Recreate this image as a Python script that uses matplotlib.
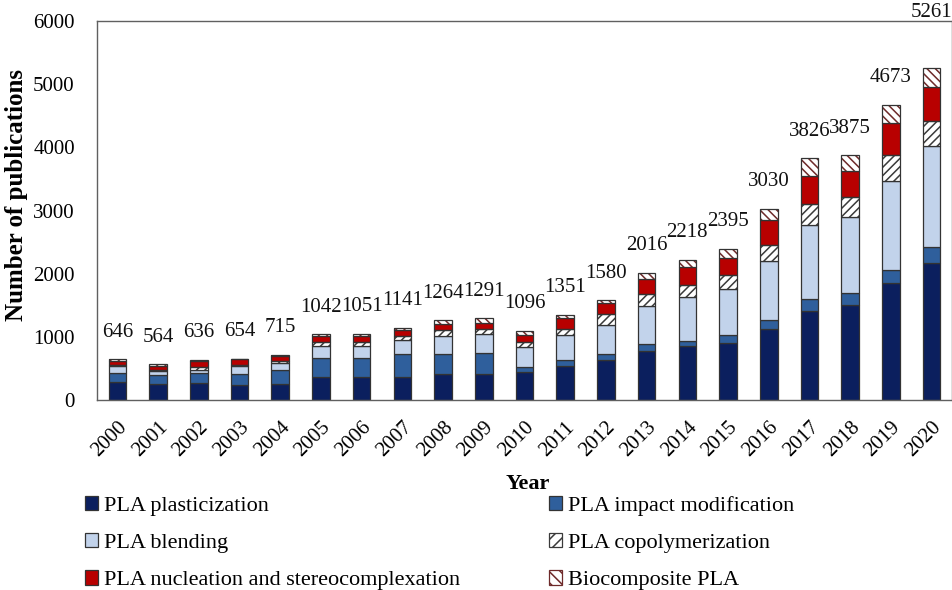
import matplotlib
matplotlib.use("Agg")
import matplotlib.pyplot as plt
from matplotlib.patches import Patch
import numpy as np

plt.rcParams['font.family'] = ['Liberation Serif', 'DejaVu Serif']
plt.rcParams['hatch.linewidth'] = 1.1

years = [str(y) for y in range(2000, 2021)]
plasticization = [290, 248, 274, 237, 248, 369, 369, 369, 411, 411, 443, 538, 633, 780, 855, 907, 1119, 1414, 1509, 1847, 2174]
impact_mod     = [130, 150, 158, 169, 227, 301, 301, 354, 312, 338, 74, 95, 95, 106, 84, 117, 147, 180, 180, 211, 253]
blending       = [115, 58, 43, 132, 116, 185, 185, 227, 290, 296, 317, 401, 454, 607, 697, 738, 929, 1171, 1203, 1414, 1594]
copolymer      = [20, 22, 43, 16, 21, 68, 68, 63, 95, 84, 84, 85, 179, 185, 184, 211, 264, 338, 317, 406, 396]
nucleation     = [65, 60, 100, 90, 90, 90, 90, 95, 95, 95, 116, 174, 170, 232, 280, 269, 390, 443, 416, 502, 533]
biocomposite   = [26, 26, 18, 10, 13, 29, 38, 33, 61, 67, 62, 58, 49, 106, 118, 153, 181, 280, 250, 293, 311]
totals = [646, 564, 636, 654, 715, 1042, 1051, 1141, 1264, 1291, 1096, 1351, 1580, 2016, 2218, 2395, 3030, 3826, 3875, 4673, 5261]

series = [
    ("PLA plasticization", plasticization, dict(color="#0b1f5e", hatch=None, hc=None)),
    ("PLA impact modification", impact_mod, dict(color="#2f5f9c", hatch=None, hc=None)),
    ("PLA blending", blending, dict(color="#c2d3eb", hatch=None, hc=None)),
    ("PLA copolymerization", copolymer, dict(color="white", hatch="////", hc="#3a3a3a")),
    ("PLA nucleation and stereocomplexation", nucleation, dict(color="#b80000", hatch=None, hc=None)),
    ("Biocomposite PLA", biocomposite, dict(color="white", hatch="\\\\\\\\", hc="#6e2a2a")),
]

fig = plt.figure(figsize=(9.52, 5.9), dpi=100)
ax = fig.add_axes([97/952, 1-400/590, (952-97)/952, (400-21)/590])

x = np.arange(len(years))
width = 0.43
bottom = np.zeros(len(years))
handles = {}
for name, vals, st in series:
    vals = np.array(vals, dtype=float)
    if st["hatch"]:
        ax.bar(x, vals, width, bottom=bottom, color=st["color"], hatch=st["hatch"],
               edgecolor=st["hc"], linewidth=0, zorder=2)
        ax.bar(x, vals, width, bottom=bottom, fill=False, edgecolor="#333333", linewidth=0.9, zorder=3)
        handles[name] = Patch(facecolor=st["color"], hatch=st["hatch"].replace("////", "///").replace("\\\\\\\\", "\\\\\\"),
                              edgecolor=st["hc"], linewidth=0.9)
    else:
        ax.bar(x, vals, width, bottom=bottom, color=st["color"],
               edgecolor="#333333", linewidth=0.9, zorder=2)
        handles[name] = Patch(facecolor=st["color"], edgecolor="#333333", linewidth=0.9)
    bottom += vals

for i, t in enumerate(totals):
    off = 55 if i == len(totals) - 1 else 27
    ax.annotate(str(t), (x[i], bottom[i]), xytext=(0, off), textcoords="offset pixels",
                ha="center", va="center", fontsize=15, color="#111111")

ax.set_xlim(-0.5, len(years) - 0.5)
ax.set_ylim(0, 6000)
ax.set_yticks(np.arange(0, 6001, 1000))
ax.set_xticks(x)
ax.set_xticklabels(years, rotation=45, ha="right", va="top", rotation_mode="anchor", fontsize=15)
ax.tick_params(axis="y", length=0, pad=16, labelsize=15)
ax.tick_params(axis="x", length=0, pad=13)
for s in ax.spines.values():
    s.set_color("#606060")
    s.set_linewidth(1.0)

ax.set_ylabel("Number of publications", fontsize=18, fontweight="bold")
ax.yaxis.set_label_coords(-0.081, 0.541)
ax.set_xlabel("Year", fontsize=16, fontweight="bold")
ax.xaxis.set_label_coords(0.504, -0.195)

order = ["PLA plasticization", "PLA blending", "PLA nucleation and stereocomplexation",
         "PLA impact modification", "PLA copolymerization", "Biocomposite PLA"]
leg = fig.legend([handles[n] for n in order], order, loc="upper left",
                 bbox_to_anchor=(85/952, 1-496/590), ncol=2, frameon=False,
                 fontsize=16, handlelength=0.6, handleheight=0.6, handletextpad=0.25,
                 labelspacing=0.78, columnspacing=4.0, borderpad=0, borderaxespad=0)

fig.savefig("out.png", dpi=100)
